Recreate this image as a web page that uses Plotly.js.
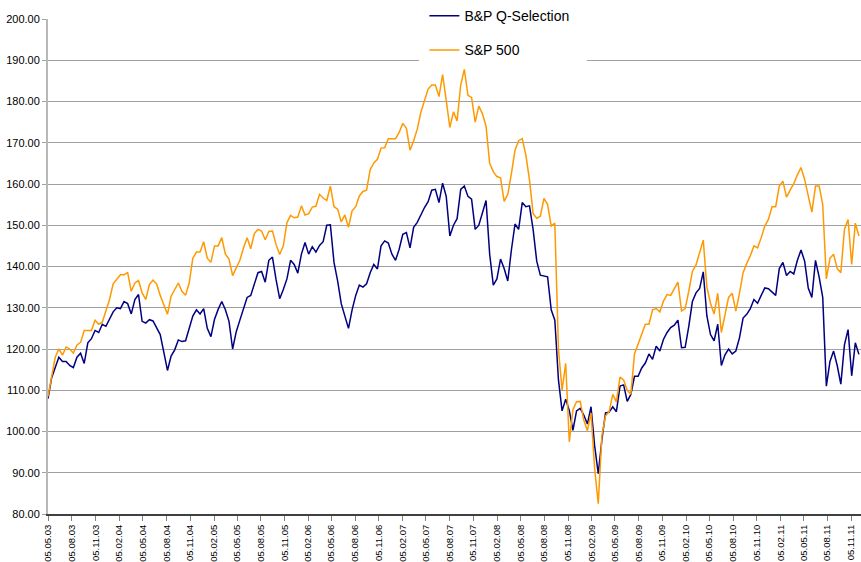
<!DOCTYPE html>
<html>
<head>
<meta charset="utf-8">
<script src="https://cdn.plot.ly/plotly-3.0.1.min.js"></script>
<style>html,body{margin:0;padding:0;background:#fff;}#chart{width:861px;height:562px;}</style>
</head>
<body>
<div id="chart"></div>
<script>
// Sampling grid: every second week starting 05.05.2003
const startDate = '2003-05-05';
const stepDays = 14;

const seriesNames = ['B&P Q-Selection', 'S&P 500'];

const bpQSelection = [
108,113,115.5,118,117,117,116,115.5,118,119,
116.5,121.5,122.5,124.5,124,126,125.5,127.3,129,130,
129.8,131.5,131,128.5,132,133.2,126.7,126.3,127.1,126.8,
125.2,123.5,119.2,114.8,118.3,119.8,122.2,121.8,122,125,
128,129.5,128.5,129.8,125,123,127.2,129.6,131.5,129.5,
126.7,120,124.2,127,130,132.5,133,135.5,138.5,138.8,
136.2,141.5,142.3,136.8,132.2,134.4,137,141.5,140.5,138.4,
143,145.8,143,144.8,143.5,145.1,146,150,150.1,141,
136.5,131,128,125,129.5,133,135.5,135,135.8,138.5,
140.5,139.4,145,146.2,145.7,143,141.5,144.2,147.8,148.2,
144.5,149.5,150.7,152.7,154.3,155.7,158.5,158.7,155.5,160.2,
157,147.4,150,151.6,158.7,159.5,157,156.3,149,150,
153.2,156,143,135.5,137,141.8,139.5,136.5,144,150.3,
149,155.5,154.5,154.7,149,141.3,137.9,137.7,137.5,129.5,
127,112.5,105,107.8,105.1,100.3,105,105.6,104,101.8,
106,96.5,89.8,98,104.5,104.7,106,104.8,111,111.3,
107.3,109,113.4,113.4,115.4,116.6,118.8,117.5,120.7,119.5,
122.3,124,125.2,125.8,127,120.3,120.4,125.5,131.5,133.6,
134.7,138.7,128,123.5,122,126,116,118.6,120,118.8,
119.5,122.7,127.5,128.4,129.8,132,131.1,133,134.8,134.6,
133.8,133,139.5,141,137.8,138.8,138.2,141.5,144,141.3,
134.8,132.5,141.5,137.5,132.5,111,117,119.5,116,111.5,
121,124.7,113.5,121.5,118.7
];

const sp500 = [
108.5,113,118,120,118.5,120.5,120,119,121,121.6,
124.5,124.5,124.5,127,126,126.5,129.5,132,135.8,137,
138,138,138.5,134,136,136.6,133.6,132,135.6,136.7,
135.8,133,130.8,128.4,132.8,134.5,136,134,133,136,
142,143.5,143.5,146,142,141,145,145,147,143,
141.8,137.8,139.5,141.5,144.5,147,144.3,148,149,148.6,
146.5,148.5,148.6,145.3,142.9,145,150.6,152.4,151.8,152,
154.7,152.5,152.8,154.4,154.6,157.5,156.6,156,159.5,154.5,
153.9,150.8,152.5,149.5,153.5,154.5,157.1,158.2,158.5,163.5,
165.1,166,168.7,168.8,171,171,171,172.5,174.7,173.5,
168.2,170.5,173.3,177.4,180.5,183,184,184,181.2,186.5,
180.3,173.7,177.5,175.3,184,187.8,181.5,181,175,178.9,
177,174,165,163,161.8,161.5,155.8,157.5,162.5,168.2,
170.5,171,167,161,152.8,151.7,152.2,156.5,155,149.8,
150.5,120,110,116.5,97.5,105.3,107.2,107.3,102.8,100.2,
104.5,91,82.5,99,103.8,104.8,109,107.2,113.2,112.5,
110,109,118.8,121.2,123.9,126,126,129.5,129.8,129,
131.6,133.2,133,134.8,136.2,129.2,129.8,134,138.8,140.4,
143.3,146.4,135,131.1,128.5,133.5,124,128,132.5,133.5,
129.2,133.5,138.5,140.7,142.6,145,144.5,147,149.8,151.4,
154.5,154.5,159.5,160.7,156.8,158.5,160.1,162.2,164,161.1,
157,153.2,159.5,159.5,155,137,142,143,139.5,138.5,
149,151.4,140.5,150.5,147.4
];

function buildDates(n) {
  const out = [];
  const t0 = Date.parse(startDate + 'T00:00:00Z');
  for (let i = 0; i < n; i++) {
    const d = new Date(t0 + i * stepDays * 86400000);
    out.push(d.toISOString().slice(0, 10));
  }
  return out;
}
const dates = buildDates(bpQSelection.length);

const traces = [
  {x: dates, y: bpQSelection, name: seriesNames[0], type: 'scatter', mode: 'lines',
   line: {color: '#000080', width: 1.5}, legendgroup: 'a'},
  {x: dates, y: sp500, name: seriesNames[1], type: 'scatter', mode: 'lines',
   line: {color: '#FF9900', width: 1.5}, legendgroup: 'b'}
];

const layout = {
  width: 861, height: 562,
  margin: {l: 48, r: 0, t: 19, b: 48},
  paper_bgcolor: '#ffffff', plot_bgcolor: '#ffffff',
  font: {family: 'Liberation Sans, Arial, sans-serif', color: '#000000'},
  showlegend: true,
  legend: {
    x: 0.463, xanchor: 'left', y: 1.038, yanchor: 'top',
    bgcolor: '#ffffff', borderwidth: 0,
    font: {size: 14, color: '#000000'},
    traceorder: 'grouped', tracegroupgap: 13
  },
  // white backing of the legend area (gridlines stop behind the legend in the reference)
  shapes: [{
    type: 'rect', xref: 'paper', yref: 'paper', layer: 'above',
    x0: 0.4563, x1: 0.663, y0: 0.906, y1: 1.04,
    fillcolor: '#ffffff', line: {width: 0}
  }],
  xaxis: {
    type: 'date',
    range: ['2003-05-05', '2011-12-13'],
    tick0: '2003-05-05', dtick: 'M3',
    tickformat: '%d.%m.%y',
    tickangle: -90,
    tickfont: {size: 9.5, color: '#000000'},
    ticks: 'outside', ticklen: 5, tickcolor: '#808080', tickwidth: 1,
    showgrid: false, zeroline: false,
    showline: true, linecolor: '#404040', linewidth: 2
  },
  yaxis: {
    range: [80, 200],
    dtick: 10, tick0: 80,
    tickformat: '.2f',
    tickfont: {size: 11, color: '#000000'},
    ticks: 'outside', ticklen: 4, tickcolor: '#a0a0a0',
    showgrid: true, gridcolor: '#a0a0a0', gridwidth: 1,
    zeroline: false,
    showline: true, linecolor: '#b8b8b8', linewidth: 2
  },
  hovermode: false
};

Plotly.newPlot('chart', traces, layout, {displayModeBar: false, staticPlot: true});
</script>
</body>
</html>
